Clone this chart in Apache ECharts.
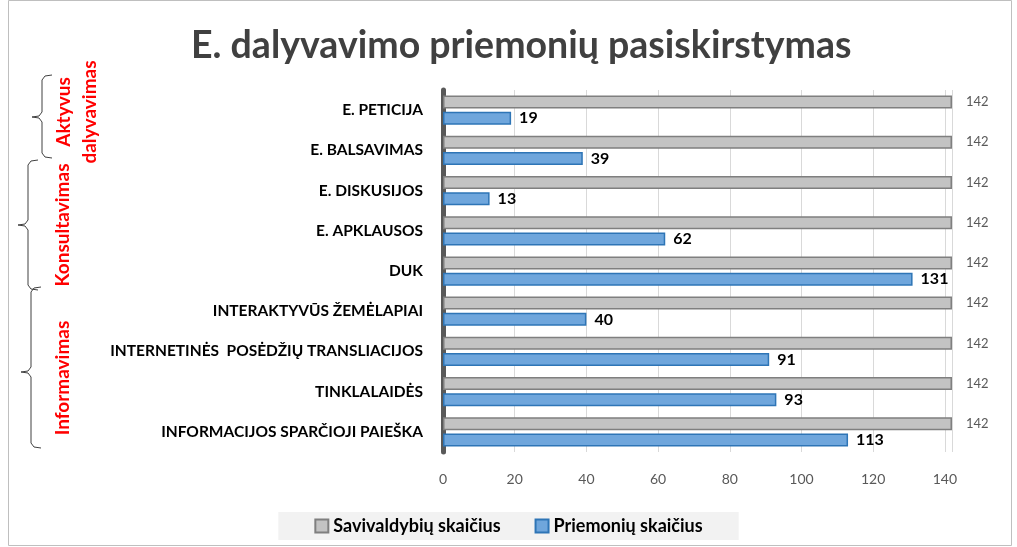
<!DOCTYPE html>
<html>
<head>
<meta charset="utf-8">
<script src="https://cdn.jsdelivr.net/npm/echarts@6/dist/echarts.min.js"></script>
<style>
  html, body { margin: 0; padding: 0; background: #fff; }
  #chart { width: 1017px; height: 547px; }
</style>
</head>
<body>
<div id="chart"></div>
<script>
// kategorijos (iš viršaus į apačią)
var categories = [
  'E. PETICIJA',
  'E. BALSAVIMAS',
  'E. DISKUSIJOS',
  'E. APKLAUSOS',
  'DUK',
  'INTERAKTYVŪS ŽEMĖLAPIAI',
  'INTERNETINĖS  POSĖDŽIŲ TRANSLIACIJOS',
  'TINKLALAIDĖS',
  'INFORMACIJOS SPARČIOJI PAIEŠKA'
];
var savivaldybiu = [142, 142, 142, 142, 142, 142, 142, 142, 142];
var priemoniu = [19, 39, 13, 62, 131, 40, 91, 93, 113];
var xTicks = [0, 20, 40, 60, 80, 100, 120, 140];

var font = 'Lato, "Open Sans", sans-serif';
var red = '#ff0000';

// skliaustas kairėje: x - smaigalio padėtis, y1..y2 - aukštis
function brace(x, y1, y2, ym) {
  var w = 10;
  return {
    type: 'polyline',
    shape: {
      points: [
        [x + w * 2, y1], [x + w + 3, y1 + 1], [x + w, y1 + 5],
        [x + w, ym - 5], [x + w - 3, ym - 1], [x, ym],
        [x + w - 3, ym + 1], [x + w, ym + 5],
        [x + w, y2 - 5], [x + w + 3, y2 - 1], [x + w * 2, y2]
      ]
    },
    style: { stroke: '#404040', fill: null, lineWidth: 1 },
    silent: true
  };
}

function sideText(txt, x, y) {
  return {
    type: 'text',
    x: x, y: y,
    rotation: Math.PI / 2,
    style: {
      text: txt, fill: red, font: 'bold 19px ' + font,
      align: 'center', verticalAlign: 'middle', lineHeight: 26
    },
    silent: true
  };
}

var chart = echarts.init(document.getElementById('chart'));
chart.setOption({
  animation: false,
  title: {
    text: 'E. dalyvavimo priemonių pasiskirstymas',
    left: 186,
    top: 22,
    textStyle: { fontFamily: font, fontSize: 37.5, fontWeight: 'bold', color: '#404040' }
  },
  legend: {
    bottom: 7,
    left: 'center',
    icon: 'rect',
    itemWidth: 13,
    itemHeight: 13,
    itemGap: 34,
    padding: [5, 36],
    backgroundColor: '#f2f2f2',
    textStyle: { fontFamily: font, fontSize: 18, fontWeight: 'bold', color: '#000' },
    data: ['Savivaldybių skaičius', 'Priemonių skaičius']
  },
  grid: { left: 443, right: 65, top: 90, height: 362 },
  xAxis: {
    type: 'value',
    min: 0,
    max: 142,
    interval: 20,
    axisLine: { show: false },
    axisTick: { show: false },
    axisLabel: {
      color: '#595959', fontFamily: font, fontSize: 14, margin: 20,
      customValues: xTicks
    },
    splitLine: { lineStyle: { color: '#d9d9d9' } }
  },
  yAxis: {
    type: 'category',
    data: categories,
    inverse: true,
    axisLine: { lineStyle: { color: '#595959', width: 5 } },
    axisTick: { show: false },
    axisLabel: { color: '#000', fontFamily: font, fontSize: 15.5, fontWeight: 'bold', margin: 20 }
  },
  series: [
    {
      name: 'Savivaldybių skaičius',
      type: 'bar',
      data: savivaldybiu,
      barWidth: 13,
      barGap: '25%',
      itemStyle: { color: '#c3c3c3', borderColor: '#7f7f7f', borderWidth: 1.5 },
      label: {
        show: true, position: 'right', distance: 14,
        color: '#595959', fontFamily: font, fontSize: 13
      }
    },
    {
      name: 'Priemonių skaičius',
      type: 'bar',
      data: priemoniu,
      barWidth: 13,
      itemStyle: { color: '#6fa6dc', borderColor: '#2e75b6', borderWidth: 1.5 },
      label: {
        show: true, position: 'right', distance: 8,
        color: '#000', fontFamily: font, fontSize: 16, fontWeight: 'bold'
      }
    }
  ],
  graphic: [
    {
      type: 'rect',
      shape: { x: 8.5, y: 0.5, width: 1003, height: 545 },
      style: { fill: null, stroke: '#bfbfbf', lineWidth: 1 },
      silent: true
    },
    brace(32, 75, 158, 117),
    brace(18, 160, 290, 225),
    brace(21, 287, 448, 372),
    sideText('Aktyvus\ndalyvavimas', 77, 112),
    sideText('Konsultavimas', 63, 225),
    sideText('Informavimas', 63, 378)
  ]
});
</script>
</body>
</html>
